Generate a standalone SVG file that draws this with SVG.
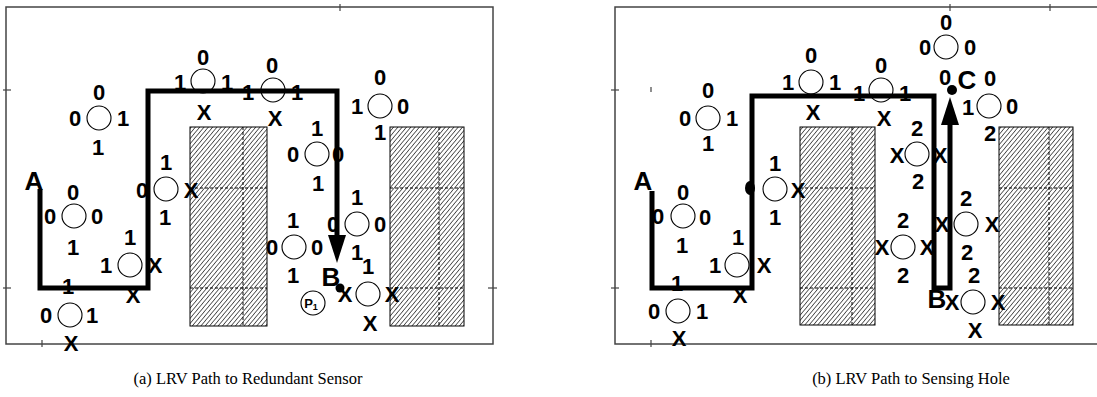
<svg xmlns="http://www.w3.org/2000/svg" width="1097" height="397" viewBox="0 0 1097 397">
<defs>
<pattern id="hatch" width="3.3" height="10" patternUnits="userSpaceOnUse" patternTransform="rotate(40)">
<line x1="0" y1="0" x2="0" y2="10" stroke="#000" stroke-width="1.2"/>
</pattern>
<marker id="ah" markerUnits="userSpaceOnUse" markerWidth="30" markerHeight="20" refX="0" refY="9" orient="auto">
<path d="M0,0 L28,9 L0,18 z" fill="#000"/>
</marker>
<style>
.frame{fill:none;stroke:#444;stroke-width:1.5}
.tick{stroke:#444;stroke-width:1.2}
.obs{fill:url(#hatch);stroke:#000;stroke-width:1}
.grid{stroke:#000;stroke-width:1;stroke-dasharray:3 2;fill:none}
.s{fill:#fff;stroke:#000;stroke-width:1.1}
.d{font-family:"Liberation Sans",Arial,sans-serif;font-weight:bold;font-size:22px;text-anchor:middle;fill:#000}
.big{font-family:"Liberation Sans",Arial,sans-serif;font-weight:bold;font-size:26px;text-anchor:middle;fill:#000}
.path{fill:none;stroke:#000;stroke-width:5;stroke-linejoin:miter;stroke-linecap:butt}
.cap{font-family:"Liberation Serif","Times New Roman",serif;font-size:16.5px;text-anchor:middle;fill:#000}
</style>
</defs>
<rect width="1097" height="397" fill="#fff"/>

<!-- Panel (a) -->
<g id="panel-a">
<rect class="frame" x="6" y="7" width="487" height="337"/>
<line class="tick" x1="3" y1="90" x2="11" y2="90"/>
<line class="tick" x1="3" y1="288" x2="11" y2="288"/>
<line class="tick" x1="340" y1="4" x2="340" y2="11"/>
<line class="tick" x1="42" y1="340" x2="42" y2="347"/>
<line class="tick" x1="488" y1="288" x2="497" y2="288"/>
<g id="obstacle-a1">
<rect class="obs" x="190" y="127" width="77" height="199"/>
<path class="grid" d="M243,127 V326 M190,188 H267 M190,288 H267"/>
</g>
<g id="obstacle-a2">
<rect class="obs" x="390" y="127" width="74" height="199"/>
<path class="grid" d="M439,127 V326 M390,188 H464 M390,288 H464"/>
</g>
</g>

<g id="a1"><circle class="s" cx="99" cy="118" r="12"/><text class="d" x="99" y="100">0</text><text class="d" x="75" y="126">0</text><text class="d" x="123" y="126">1</text><text class="d" x="98" y="155">1</text></g>
<g id="a2"><circle class="s" cx="203" cy="81" r="12"/><text class="d" x="203" y="65">0</text><text class="d" x="180" y="90">1</text><text class="d" x="227" y="90">1</text><text class="d" x="204" y="120">X</text></g>
<g id="a3"><circle class="s" cx="273" cy="90" r="12"/><text class="d" x="272" y="73">0</text><text class="d" x="248" y="100">1</text><text class="d" x="297" y="100">1</text><text class="d" x="275" y="126">X</text></g>
<g id="a4"><circle class="s" cx="380" cy="106" r="12"/><text class="d" x="380" y="85">0</text><text class="d" x="357" y="114">1</text><text class="d" x="403" y="114">0</text><text class="d" x="380" y="140">1</text></g>
<g id="a5"><circle class="s" cx="317" cy="154" r="12"/><text class="d" x="317" y="136">1</text><text class="d" x="293" y="162">0</text><text class="d" x="338" y="162">0</text><text class="d" x="318" y="191">1</text></g>
<g id="a6"><circle class="s" cx="166" cy="189" r="12"/><text class="d" x="166" y="170">1</text><text class="d" x="142" y="198">0</text><text class="d" x="191" y="198">X</text><text class="d" x="165" y="225">1</text></g>
<g id="a7"><circle class="s" cx="74" cy="216" r="12"/><text class="d" x="73" y="200">0</text><text class="d" x="50" y="224">0</text><text class="d" x="97" y="224">0</text><text class="d" x="73" y="255">1</text></g>
<g id="a8"><circle class="s" cx="130" cy="265" r="12"/><text class="d" x="130" y="245">1</text><text class="d" x="106" y="273">1</text><text class="d" x="155" y="273">X</text><text class="d" x="133" y="303">X</text></g>
<g id="a9"><circle class="s" cx="70" cy="315" r="12"/><text class="d" x="68" y="294">1</text><text class="d" x="46" y="323">0</text><text class="d" x="92" y="323">1</text><text class="d" x="71" y="351">X</text></g>
<g id="a10"><circle class="s" cx="294" cy="247" r="12"/><text class="d" x="293" y="228">1</text><text class="d" x="272" y="255">0</text><text class="d" x="317" y="255">0</text><text class="d" x="293" y="283">1</text></g>
<g id="a11"><circle class="s" cx="357" cy="224" r="12"/><text class="d" x="357" y="205">1</text><text class="d" x="333" y="232">0</text><text class="d" x="380" y="232">0</text><text class="d" x="357" y="260">1</text></g>
<g id="a12"><circle class="s" cx="368" cy="294" r="12"/><text class="d" x="368" y="274">1</text><text class="d" x="345" y="302">X</text><text class="d" x="392" y="302">X</text><text class="d" x="370" y="331">X</text></g>
<g id="p1"><circle class="s" cx="313" cy="303" r="12"/><text x="311" y="308" font-family="Liberation Sans,Arial,sans-serif" font-size="13" font-weight="bold" text-anchor="middle">P<tspan font-size="9" dy="2">1</tspan></text></g>

<!-- Panel (b) -->
<g id="panel-b">
<path class="frame" d="M1097,7 H615 V344 H1097"/>
<line class="tick" x1="611" y1="90" x2="619" y2="90"/>
<line class="tick" x1="611" y1="288" x2="619" y2="288"/>
<line class="tick" x1="950" y1="4" x2="950" y2="11"/>
<line class="tick" x1="1050" y1="4" x2="1050" y2="11"/>
<line class="tick" x1="651" y1="340" x2="651" y2="347"/>
<line class="tick" x1="651" y1="87" x2="651" y2="92"/>
<g id="obstacle-b1">
<rect class="obs" x="800" y="127" width="75" height="198"/>
<path class="grid" d="M852,127 V325 M800,188 H875 M800,288 H875"/>
</g>
<g id="obstacle-b2">
<rect class="obs" x="999" y="127" width="74" height="198"/>
<path class="grid" d="M1049,127 V325 M999,188 H1073 M999,288 H1073"/>
</g>
</g>

<g id="b1"><circle class="s" cx="708" cy="118" r="12"/><text class="d" x="708" y="98">0</text><text class="d" x="685" y="126">0</text><text class="d" x="732" y="126">1</text><text class="d" x="708" y="151">1</text></g>
<g id="b2"><circle class="s" cx="811" cy="82" r="12"/><text class="d" x="811" y="63">0</text><text class="d" x="788" y="90">1</text><text class="d" x="835" y="90">1</text><text class="d" x="813" y="120">X</text></g>
<g id="b3"><circle class="s" cx="881" cy="90" r="12"/><text class="d" x="881" y="73">0</text><text class="d" x="859" y="101">1</text><text class="d" x="905" y="101">1</text><text class="d" x="884" y="126">X</text></g>
<g id="b4"><circle class="s" cx="946" cy="47" r="12"/><text class="d" x="946" y="30">0</text><text class="d" x="925" y="55">0</text><text class="d" x="970" y="55">0</text><text class="d" x="945" y="85">0</text></g>
<g id="b5"><circle class="s" cx="989" cy="106" r="12"/><text class="d" x="990" y="86">0</text><text class="d" x="968" y="115">1</text><text class="d" x="1012" y="114">0</text><text class="d" x="990" y="141">2</text></g>
<g id="b6"><circle class="s" cx="917" cy="154" r="12"/><text class="d" x="917" y="136">2</text><text class="d" x="897" y="163">X</text><text class="d" x="940" y="163">X</text><text class="d" x="918" y="189">2</text></g>
<g id="b7"><circle class="s" cx="966" cy="224" r="12"/><text class="d" x="966" y="206">2</text><text class="d" x="942" y="232">X</text><text class="d" x="992" y="232">X</text><text class="d" x="967" y="260">2</text></g>
<g id="b8"><circle class="s" cx="903" cy="247" r="12"/><text class="d" x="903" y="228">2</text><text class="d" x="882" y="255">X</text><text class="d" x="927" y="255">X</text><text class="d" x="903" y="283">2</text></g>
<g id="b9"><circle class="s" cx="973" cy="302" r="12"/><text class="d" x="974" y="283">2</text><text class="d" x="952" y="310">X</text><text class="d" x="998" y="310">X</text><text class="d" x="975" y="338">X</text></g>
<g id="b10"><circle class="s" cx="775" cy="189" r="12"/><text class="d" x="775" y="171">1</text><text class="d" x="798" y="198">X</text><text class="d" x="775" y="225">1</text></g>
<g id="b11"><circle class="s" cx="683" cy="216" r="12"/><text class="d" x="683" y="200">0</text><text class="d" x="658" y="224">0</text><text class="d" x="705" y="225">0</text><text class="d" x="682" y="253">1</text></g>
<g id="b12"><circle class="s" cx="737" cy="265" r="12"/><text class="d" x="738" y="245">1</text><text class="d" x="715" y="273">1</text><text class="d" x="764" y="273">X</text><text class="d" x="740" y="303">X</text></g>
<g id="b13"><circle class="s" cx="678" cy="311" r="12"/><text class="d" x="677" y="291">1</text><text class="d" x="654" y="319">0</text><text class="d" x="702" y="319">1</text><text class="d" x="679" y="346">X</text></g>

<g id="connectors">
<path class="path" d="M40,189 V288 H148 V91 H337 V235" marker-end="url(#ah)"/>
<path class="path" d="M652,191 V288 H752 V96 H934 V288 H950 V125" marker-end="url(#ah)"/>
</g>

<g id="points">
<text class="big" x="34" y="190">A</text>
<text class="big" x="331" y="286" font-size="22">B</text>
<circle cx="340" cy="288" r="4.5" fill="#000"/>
<text class="big" x="643" y="190">A</text>
<ellipse cx="750" cy="188" rx="5" ry="7" fill="#000"/>
<text class="big" x="937" y="308" font-size="22">B</text>
<circle cx="952" cy="90" r="5" fill="#000"/>
<text class="big" x="967" y="89" font-size="21">C</text>
</g>

<text class="cap" x="248" y="384">(a) LRV Path to Redundant Sensor</text>
<text class="cap" x="911" y="384">(b) LRV Path to Sensing Hole</text>
</svg>
